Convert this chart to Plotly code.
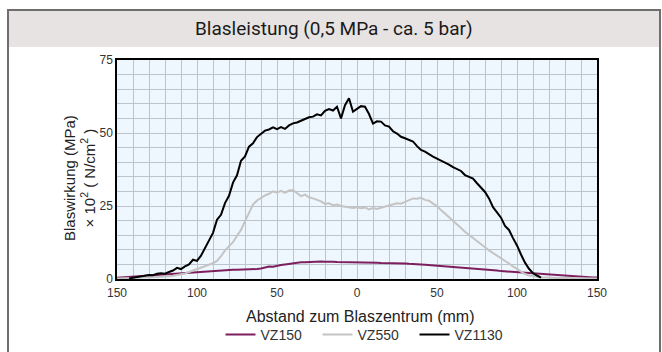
import plotly.graph_objects as go

# Sampling positions (mm from blow centre), 2.5 mm apart
distance_mm = [
    -150, -147.5, -145, -142.5, -140, -137.5, -135, -132.5, -130, -127.5,
    -125, -122.5, -120, -117.5, -115, -112.5, -110, -107.5, -105, -102.5,
    -100, -97.5, -95, -92.5, -90, -87.5, -85, -82.5, -80, -77.5,
    -75, -72.5, -70, -67.5, -65, -62.5, -60, -57.5, -55, -52.5,
    -50, -47.5, -45, -42.5, -40, -37.5, -35, -32.5, -30, -27.5,
    -25, -22.5, -20, -17.5, -15, -12.5, -10, -7.5, -5, -2.5,
    0, 2.5, 5, 7.5, 10, 12.5, 15, 17.5, 20, 22.5,
    25, 27.5, 30, 32.5, 35, 37.5, 40, 42.5, 45, 47.5,
    50, 52.5, 55, 57.5, 60, 62.5, 65, 67.5, 70, 72.5,
    75, 77.5, 80, 82.5, 85, 87.5, 90, 92.5, 95, 97.5,
    100, 102.5, 105, 107.5, 110, 112.5, 115, 117.5, 120, 122.5,
    125, 127.5, 130, 132.5, 135, 137.5, 140, 142.5, 145, 147.5,
    150,
]

vz150 = [
    0.4, 0.5, 0.6, 0.7, 0.8, 0.9, 1.0, 1.1, 1.2, 1.4,
    1.5, 1.5, 1.7, 1.8, 1.9, 2.0, 2.1, 2.2, 2.3, 2.4,
    2.5, 2.6, 2.7, 2.8, 2.9, 2.9, 3.0, 3.1, 3.1, 3.2,
    3.2, 3.2, 3.3, 3.3, 3.3, 3.4, 3.6, 4.0, 4.3, 4.2,
    4.6, 4.8, 5.0, 5.2, 5.5, 5.6, 5.7, 5.7, 5.8, 5.8,
    5.9, 6.0, 5.9, 6.0, 5.9, 5.8, 5.8, 5.7, 5.8, 5.7,
    5.6, 5.7, 5.6, 5.6, 5.7, 5.6, 5.5, 5.5, 5.5, 5.4,
    5.5, 5.3, 5.3, 5.2, 5.2, 5.0, 5.0, 4.9, 4.8, 4.7,
    4.5, 4.4, 4.3, 4.2, 4.1, 3.9, 3.8, 3.8, 3.6, 3.5,
    3.4, 3.3, 3.2, 3.1, 3.0, 2.9, 2.7, 2.6, 2.5, 2.4,
    2.3, 2.2, 2.1, 2.0, 1.8, 1.7, 1.6, 1.5, 1.4, 1.3,
    1.2, 1.1, 1.0, 0.9, 0.9, 0.8, 0.7, 0.7, 0.6, 0.5,
    0.5,
]

vz550 = [
    0.2, 0.2, 0.3, 0.3, 0.4, 0.4, 0.5, 0.5, 0.6, 0.6,
    0.7, 0.8, 0.8, 0.9, 1.1, 1.3, 1.6, 1.9, 2.4, 2.9,
    3.4, 3.9, 4.3, 4.9, 5.4, 6.2, 7.8, 9.8, 11.2, 12.6,
    14.8, 16.8, 19.8, 22.6, 25.5, 26.9, 27.8, 28.6, 29.2, 30.0,
    29.6, 30.2, 29.5, 30.3, 30.5, 29.4, 28.4, 28.9, 28.0, 27.6,
    27.0, 26.6, 25.7, 25.9, 25.3, 25.5, 25.0, 24.8, 24.5, 24.3,
    24.6, 24.2, 24.5, 23.8, 24.3, 24.0, 24.4, 24.8, 25.0, 25.6,
    25.9, 25.8, 26.4, 26.9, 27.6, 27.5, 27.8, 27.1, 26.8, 25.8,
    25.0, 23.6, 22.4, 21.2, 20.1, 19.0, 17.5, 16.2, 15.2, 14.0,
    13.1, 12.0, 10.9, 9.8, 8.9, 8.0, 7.4, 6.3, 5.3, 4.3,
    3.4, 2.5, 1.7, 1.2, 0.9, 0.7, 0.5, 0.5, 0.4, 0.4,
    0.4, 0.3, 0.3, 0.3, 0.3, 0.2, 0.2, 0.2, 0.2, 0.2,
    0.2,
]

vz1130 = [
    None, None, None, 0.2, 0.4, 0.6, 0.9, 1.0, 1.4, 1.3,
    1.8, 2.0, 1.8, 2.4, 2.9, 3.8, 3.4, 4.3, 5.0, 6.6,
    6.2, 8.0, 10.5, 13.0, 15.8, 20.3, 22.0, 26.0, 28.5, 33.0,
    35.5, 40.5, 42.0, 45.3, 46.5, 48.6, 49.6, 50.8, 51.2, 51.9,
    51.3, 52.0, 51.4, 52.6, 53.3, 53.6, 54.2, 54.8, 55.4, 55.6,
    56.4, 56.0, 57.6, 58.2, 57.7, 59.0, 55.0, 59.5, 61.9, 57.3,
    58.2, 59.2, 59.0, 56.5, 53.2, 54.0, 53.9, 52.6, 52.2, 50.6,
    49.8, 48.7, 48.2, 47.6, 47.1, 45.5, 44.2, 43.6, 42.6, 41.9,
    41.2, 40.6, 39.9, 39.2, 38.3, 37.6, 37.0, 35.6, 35.1, 34.4,
    32.8, 31.2, 29.8, 27.6, 24.6, 22.8, 21.0, 18.2, 16.8, 14.0,
    11.5, 8.4, 5.6, 3.5, 2.0, 1.2, 0.5, None, None, None,
    None, None, None, None, None, None, None, None, None, None,
    None,
]

x_tickvals = [-150, -100, -50, 0, 50, 100, 150]
x_ticktext = ["150", "100", "50", "0", "50", "100", "150"]
y_tickvals = [0, 25, 50, 75]

title_text = "Blasleistung (0,5 MPa - ca. 5 bar)"
x_title = "Abstand zum Blaszentrum (mm)"
y_title = "Blaswirkung (MPa)<br>× 10<sup>2</sup> ( N/cm<sup>2</sup> )"

W, H = 662, 352
ML, MR, MT, MB = 117, 65, 60, 73
PW, PH = W - ML - MR, H - MT - MB


def px(xp):
    return (xp - ML) / PW


def py(yp):
    return (H - MB - yp) / PH


fig = go.Figure()
series = [
    ("VZ150", vz150, "#7d1f5e"),
    ("VZ550", vz550, "#c4c4c4"),
    ("VZ1130", vz1130, "#000000"),
]
for name, vals, col in series:
    fig.add_trace(go.Scatter(
        x=distance_mm, y=vals, name=name, mode="lines",
        line=dict(color=col, width=2), connectgaps=False,
    ))

grid_col = "#bcc4ce"
fig.update_layout(
    width=W, height=H,
    margin=dict(l=ML, r=MR, t=MT, b=MB, pad=0, autoexpand=False),
    paper_bgcolor="white",
    plot_bgcolor="#eef6fe",
    font=dict(family="Liberation Sans, Arial, sans-serif", color="#333333"),
    showlegend=True,
    legend=dict(
        orientation="h", x=px(366), y=py(335), xanchor="center", yanchor="middle",
        font=dict(size=14, color="#333333"), bgcolor="rgba(0,0,0,0)",
        itemwidth=30, entrywidth=52, entrywidthmode="pixels",
    ),
    xaxis=dict(
        range=[-150, 150], tickvals=x_tickvals, ticktext=x_ticktext,
        showgrid=True, gridcolor=grid_col, gridwidth=1.2,
        minor=dict(dtick=10, tick0=0, showgrid=True, gridcolor=grid_col, gridwidth=1.2),
        showline=True, linecolor="black", linewidth=1.5, mirror=True,
        ticks="", tickfont=dict(size=12, color="#333333"), zeroline=False,
        fixedrange=True, automargin=False, ticklabelstandoff=2,
    ),
    yaxis=dict(
        range=[0, 75], tickvals=y_tickvals,
        showgrid=True, gridcolor=grid_col, gridwidth=1.2,
        minor=dict(dtick=5, tick0=0, showgrid=True, gridcolor=grid_col, gridwidth=1.2),
        showline=True, linecolor="black", linewidth=1.5, mirror=True,
        ticks="", tickfont=dict(size=12, color="#333333"), zeroline=False,
        fixedrange=True, automargin=False,
    ),
    shapes=[
        dict(type="rect", xref="paper", yref="paper",
             x0=px(8), x1=px(660), y0=py(10), y1=py(47),
             fillcolor="#e8e3e3", line=dict(width=0), layer="below"),
        dict(type="rect", xref="paper", yref="paper",
             x0=px(8), x1=px(660), y0=py(10), y1=py(360),
             fillcolor="rgba(0,0,0,0)", line=dict(color="#6e6e6e", width=2)),
    ],
    annotations=[
        dict(text=title_text, xref="paper", yref="paper", x=px(334), y=py(29),
             xanchor="center", yanchor="middle", showarrow=False,
             font=dict(family="Roboto, sans-serif", size=19, color="#1a1a1a")),
        dict(text=x_title, xref="paper", yref="paper", x=px(360), y=py(316),
             xanchor="center", yanchor="middle", showarrow=False,
             font=dict(size=16, color="#222222")),
        dict(text=y_title, xref="paper", yref="paper", x=px(79), y=py(178),
             xanchor="center", yanchor="middle", showarrow=False, textangle=-90,
             font=dict(size=15, color="#222222")),
    ],
)

fig.write_html("out.html", config={"displayModeBar": False},
               post_script="document.body.style.margin='0';")
